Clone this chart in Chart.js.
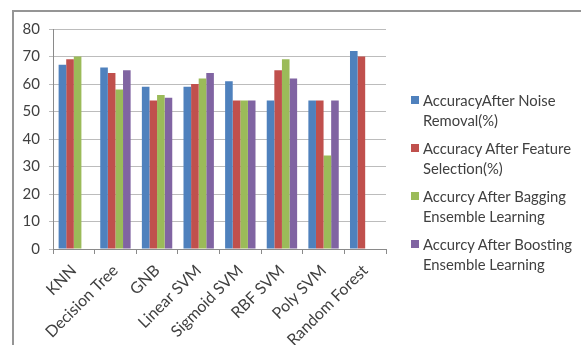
<!DOCTYPE html>
<html>
<head>
<meta charset="utf-8">
<script src="https://cdn.jsdelivr.net/npm/chart.js@4.4.0/dist/chart.umd.min.js"></script>
<style>
  html, body { margin:0; padding:0; background:#fff; }
  #wrap { position:relative; width:581px; height:345px; overflow:hidden; font-family: Lato, 'Open Sans', sans-serif; }
  #frame { position:absolute; left:12px; top:10px; width:600px; height:400px; border-top:2px solid #959595; border-left:2px solid #959595; }
  #cv { position:absolute; left:0; top:0; }
  #legend { position:absolute; left:411px; top:90px; }
  .lg-item { position:relative; padding-left:12px; margin-bottom:8px; font-size:14.8px; line-height:20px; color:#404040; }
  .lg-box { position:absolute; left:0; top:6px; width:8px; height:8px; }
</style>
</head>
<body>
<div id="wrap">
  <div id="frame"></div>
  <canvas id="cv" width="581" height="345"></canvas>
  <div id="legend"></div>
</div>
<script>
// --- DATA ---
const categories = ['KNN', 'Decision Tree', 'GNB', 'Linear SVM', 'Sigmoid SVM', 'RBF SVM', 'Poly SVM', 'Random Forest'];
const noiseRemoval   = [67, 66, 59, 59, 61, 54, 54, 72];
const featureSel     = [69, 64, 54, 60, 54, 65, 54, 70];
const baggingEns     = [70, 58, 56, 62, 54, 69, 34, null];
const boostingEns    = [null, 65, 55, 64, 54, 62, 54, null];
const yTicks = [0, 10, 20, 30, 40, 50, 60, 70, 80];

const seriesNames = [
    ['AccuracyAfter Noise', 'Removal(%)'],
    ['Accuracy After Feature', 'Selection(%)'],
    ['Accurcy After Bagging', 'Ensemble Learning'],
    ['Accurcy After Boosting', 'Ensemble Learning']
];
const colors = ['#4F81BD', '#C0504D', '#9BBB59', '#8064A2'];
const seriesData = [noiseRemoval, featureSel, baggingEns, boostingEns];

// --- LEGEND (html, wraps on two lines like the original) ---
const lg = document.getElementById('legend');
seriesNames.forEach((lines, i) => {
    const d = document.createElement('div');
    d.className = 'lg-item';
    d.innerHTML = `<span class="lg-box" style="background:${colors[i]}"></span>${lines.join('<br>')}`;
    lg.appendChild(d);
});

// --- CHART ---
const txt = '#404040';
const gridCol = '#bcbcbc';
const fam = "Lato, 'Open Sans', sans-serif";

new Chart(document.getElementById('cv'), {
    type: 'bar',
    data: {
        labels: categories,
        datasets: seriesData.map((arr, i) => ({
            label: seriesNames[i].join(' '),
            data: arr,
            backgroundColor: colors[i],
            borderWidth: 0,
            categoryPercentage: 0.73,
            barPercentage: 1
        }))
    },
    options: {
        responsive: false,
        animation: false,
        layout: { padding: { top: 29, right: 195, left: 0, bottom: 0 } },
        plugins: { legend: { display: false }, tooltip: { enabled: false } },
        scales: {
            x: {
                afterFit: (s) => { s.height = 96; },
                grid: { display: true, drawOnChartArea: false, offset: true, tickLength: 5, color: '#8a8a8a' },
                border: { color: '#8a8a8a' },
                ticks: { minRotation: 45, maxRotation: 45, color: txt, font: { family: fam, size: 16 }, padding: 7 }
            },
            y: {
                min: 0, max: 80,
                afterFit: (s) => { s.width = 53; },
                afterBuildTicks: (s) => { s.ticks = yTicks.map(v => ({ value: v })); },
                grid: { color: gridCol, tickLength: 4 },
                border: { color: '#8a8a8a' },
                ticks: { color: txt, font: { family: fam, size: 15 }, padding: 9 }
            }
        }
    }
});
</script>
</body>
</html>
